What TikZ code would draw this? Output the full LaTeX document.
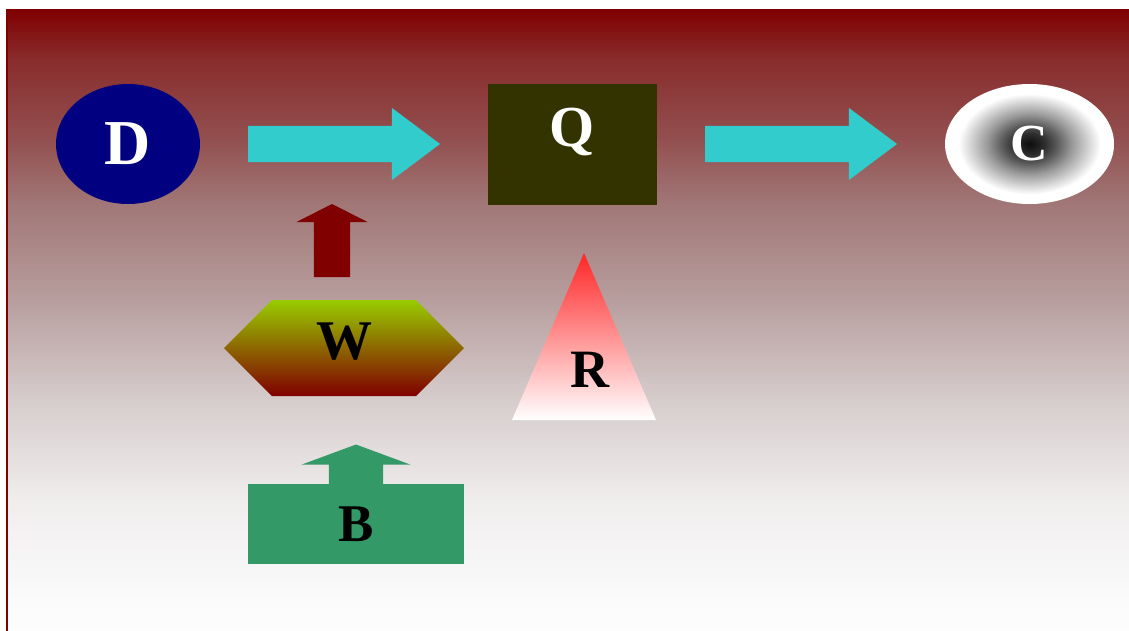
\documentclass[tikz,border=0pt]{standalone}
\usepackage{fontspec}
\setmainfont{Liberation Serif}
\usepackage{tikz}
\usetikzlibrary{positioning,shapes.geometric,shapes.arrows}
\usepackage{xcolor}
\definecolor{flowmaroon}{HTML}{800000}
\definecolor{flownavy}{HTML}{000080}
\definecolor{flowcyan}{HTML}{33CCCC}
\definecolor{flowolive}{HTML}{333300}
\definecolor{flowlime}{HTML}{99CC00}
\definecolor{flowmoss}{HTML}{8C9000}
\definecolor{flowgreen}{HTML}{339966}
\definecolor{flowred}{HTML}{FF2626}
% backdrop stops, light to dark
\definecolor{bgA}{HTML}{FDFDFD}
\definecolor{bgB}{HTML}{FBFBFB}
\definecolor{bgC}{HTML}{F0EDED}
\definecolor{bgD}{HTML}{D6CCCC}
\definecolor{bgE}{HTML}{B89E9E}
\definecolor{bgF}{HTML}{A07575}
\definecolor{bgG}{HTML}{935050}
\definecolor{bgH}{HTML}{892D2D}
\pgfdeclareverticalshading{backdrop}{100bp}{%
  color(0bp)=(bgA); color(25bp)=(bgA); color(27.9bp)=(bgB); color(35.9bp)=(bgC);
  color(43.9bp)=(bgD); color(51.8bp)=(bgE); color(59.8bp)=(bgF);
  color(64.6bp)=(bgG); color(71bp)=(bgH); color(75bp)=(flowmaroon); color(100bp)=(flowmaroon)}
\pgfdeclareradialshading{cglow}{\pgfpoint{0bp}{0bp}}{%
  color(0bp)=(black!95); color(4.5bp)=(black!82); color(8bp)=(black!65);
  color(12.5bp)=(black!40); color(18bp)=(black!14); color(21bp)=(white); color(50bp)=(white)}
\tikzset{
  letter/.style={
    font=\bfseries\fontsize{#1}{#1}\selectfont,
    inner sep=0pt,
    outer sep=0pt
  },
  blockarrow/.style={
    single arrow,
    draw=none,
    inner xsep=0pt,
    outer sep=0pt,
    single arrow head indent=0pt
  },
  flowarrow/.style={
    blockarrow,
    fill=flowcyan,
    inner ysep=18pt,
    minimum height=192pt,
    minimum width=72pt,
    single arrow head extend=18pt,
    single arrow tip angle=73.74
  }
}

\begin{document}
\begin{tikzpicture}[x=1pt, y=-1pt, node distance=48pt]
\useasboundingbox (0,0) rectangle (1129,630);
\clip (0,0) rectangle (1129,630);
% backdrop
\shade[shading=backdrop, draw=flowmaroon, line width=2pt]
  (7,10) rectangle (1135,636);

% top row
\node[ellipse, fill=flownavy, text=white, letter=64, minimum width=144pt, minimum height=120pt] (dnode) at (128,144) {D};
\node[flowarrow, right=of dnode] (dq) {};
\node[rectangle, fill=flowolive, text=white, letter=58, minimum width=169pt, minimum height=121pt,
  text height=38pt, text depth=33pt, right=of dq] (qnode) {Q};
\node[flowarrow, right=of qnode] (qc) {};
\node[ellipse, shading=cglow, text=white, letter=52, minimum width=169pt, minimum height=120pt, right=of qc] (cnode) {C};

% lower column
\node[blockarrow, fill=flowmaroon, rotate=90, inner ysep=18pt, minimum height=73pt, minimum width=71pt,
  single arrow head extend=17.5pt, single arrow tip angle=126.2, anchor=tail] (wup) at (332,277) {};
\shade[top color=flowlime, middle color=flowmoss, bottom color=flowmaroon]
  (224,348) -- (272,300) -- (416,300) -- (464,348) -- (416,396) -- (272,396) -- cycle;
\node[letter=56] (wnode) at (344,342) {W};
\node[blockarrow, fill=flowgreen, rotate=90, inner ysep=27pt, minimum height=40pt, minimum width=108pt,
  single arrow head extend=27pt, single arrow tip angle=139.4, anchor=tail] (bup) at (356,484.5) {};
\node[rectangle, fill=flowgreen, letter=53, minimum width=216pt, minimum height=80pt] (bnode) at (356,524) {B};

% triangle
\node[isosceles triangle, isosceles triangle stretches, shape border rotate=90,
  top color=flowred, bottom color=white, letter=54, text depth=16pt,
  minimum width=144pt, minimum height=167pt, anchor=apex] (rnode) at (584,253) {\hspace*{12pt}R};
\end{tikzpicture}
\end{document}
